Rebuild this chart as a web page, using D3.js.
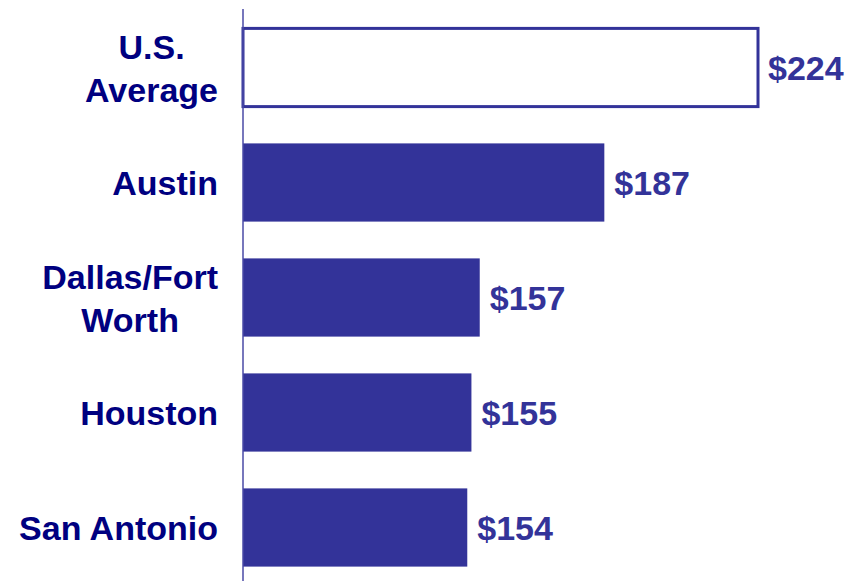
<!DOCTYPE html>
<html>
<head>
<meta charset="utf-8">
<script src="https://cdn.jsdelivr.net/npm/d3@7"></script>
<style>
  body { margin: 0; background: #fff; }
  text { font-family: "Liberation Sans", Arial, sans-serif; font-weight: bold; }
</style>
</head>
<body>
<script>
const config = {
  width: 848,
  height: 581
};

// Data
const categories = ["U.S.\nAverage", "Austin", "Dallas/Fort\nWorth", "Houston", "San Antonio"];
const values = [224, 187, 157, 155, 154];
const valueLabels = ["$224", "$187", "$157", "$155", "$154"];
const highlight = [true, false, false, false, false];

const barColor = "#333399";
const labelColor = "#000080";

const svg = d3
  .select("body")
  .append("svg")
  .attr("width", config.width)
  .attr("height", config.height);

// Scales (axis starts at 100, not zero)
const x = d3
  .scaleLinear()
  .domain([100, 224])
  .range([243, 758]);

const y = d3
  .scaleBand()
  .domain(categories)
  .range([10, 585])
  .paddingInner(0.32)
  .paddingOuter(0.16);

const rows = categories.map((c, i) => ({
  cat: c,
  value: values[i],
  label: valueLabels[i],
  outline: highlight[i]
}));

// Bars
svg
  .append("g")
  .selectAll("rect")
  .data(rows)
  .enter()
  .append("rect")
  .attr("x", x(100))
  .attr("y", d => y(d.cat))
  .attr("width", d => x(d.value) - x(100))
  .attr("height", y.bandwidth())
  .attr("fill", d => (d.outline ? "#fff" : barColor))
  .attr("stroke", d => (d.outline ? barColor : "none"))
  .attr("stroke-width", 3);

// Vertical axis line
svg
  .append("line")
  .attr("x1", x(100))
  .attr("x2", x(100))
  .attr("y1", 9)
  .attr("y2", config.height)
  .attr("stroke", "#4a4aa6")
  .attr("stroke-width", 1.5);

// Value labels
svg
  .append("g")
  .selectAll("text")
  .data(rows)
  .enter()
  .append("text")
  .text(d => d.label)
  .attr("x", d => x(d.value) + 10)
  .attr("y", d => y(d.cat) + y.bandwidth() / 2 + 12.5)
  .attr("font-size", "34px")
  .attr("fill", barColor);

// Category labels, lines centred, block right-aligned to the axis
const labelRight = 218;
const lineGap = 43;
const catG = svg.append("g");
rows.forEach(d => {
  const lines = d.cat.split("\n");
  const cy = y(d.cat) + y.bandwidth() / 2;
  const t = catG
    .append("text")
    .attr("font-size", "34px")
    .attr("fill", labelColor)
    .attr("text-anchor", "middle");
  const spans = lines.map((ln, i) =>
    t
      .append("tspan")
      .text(ln)
      .attr("y", cy + 12.5 + (i - (lines.length - 1) / 2) * lineGap)
  );
  const maxW = d3.max(spans, s => s.node().getComputedTextLength());
  spans.forEach(s => s.attr("x", labelRight - maxW / 2));
});
</script>
</body>
</html>
